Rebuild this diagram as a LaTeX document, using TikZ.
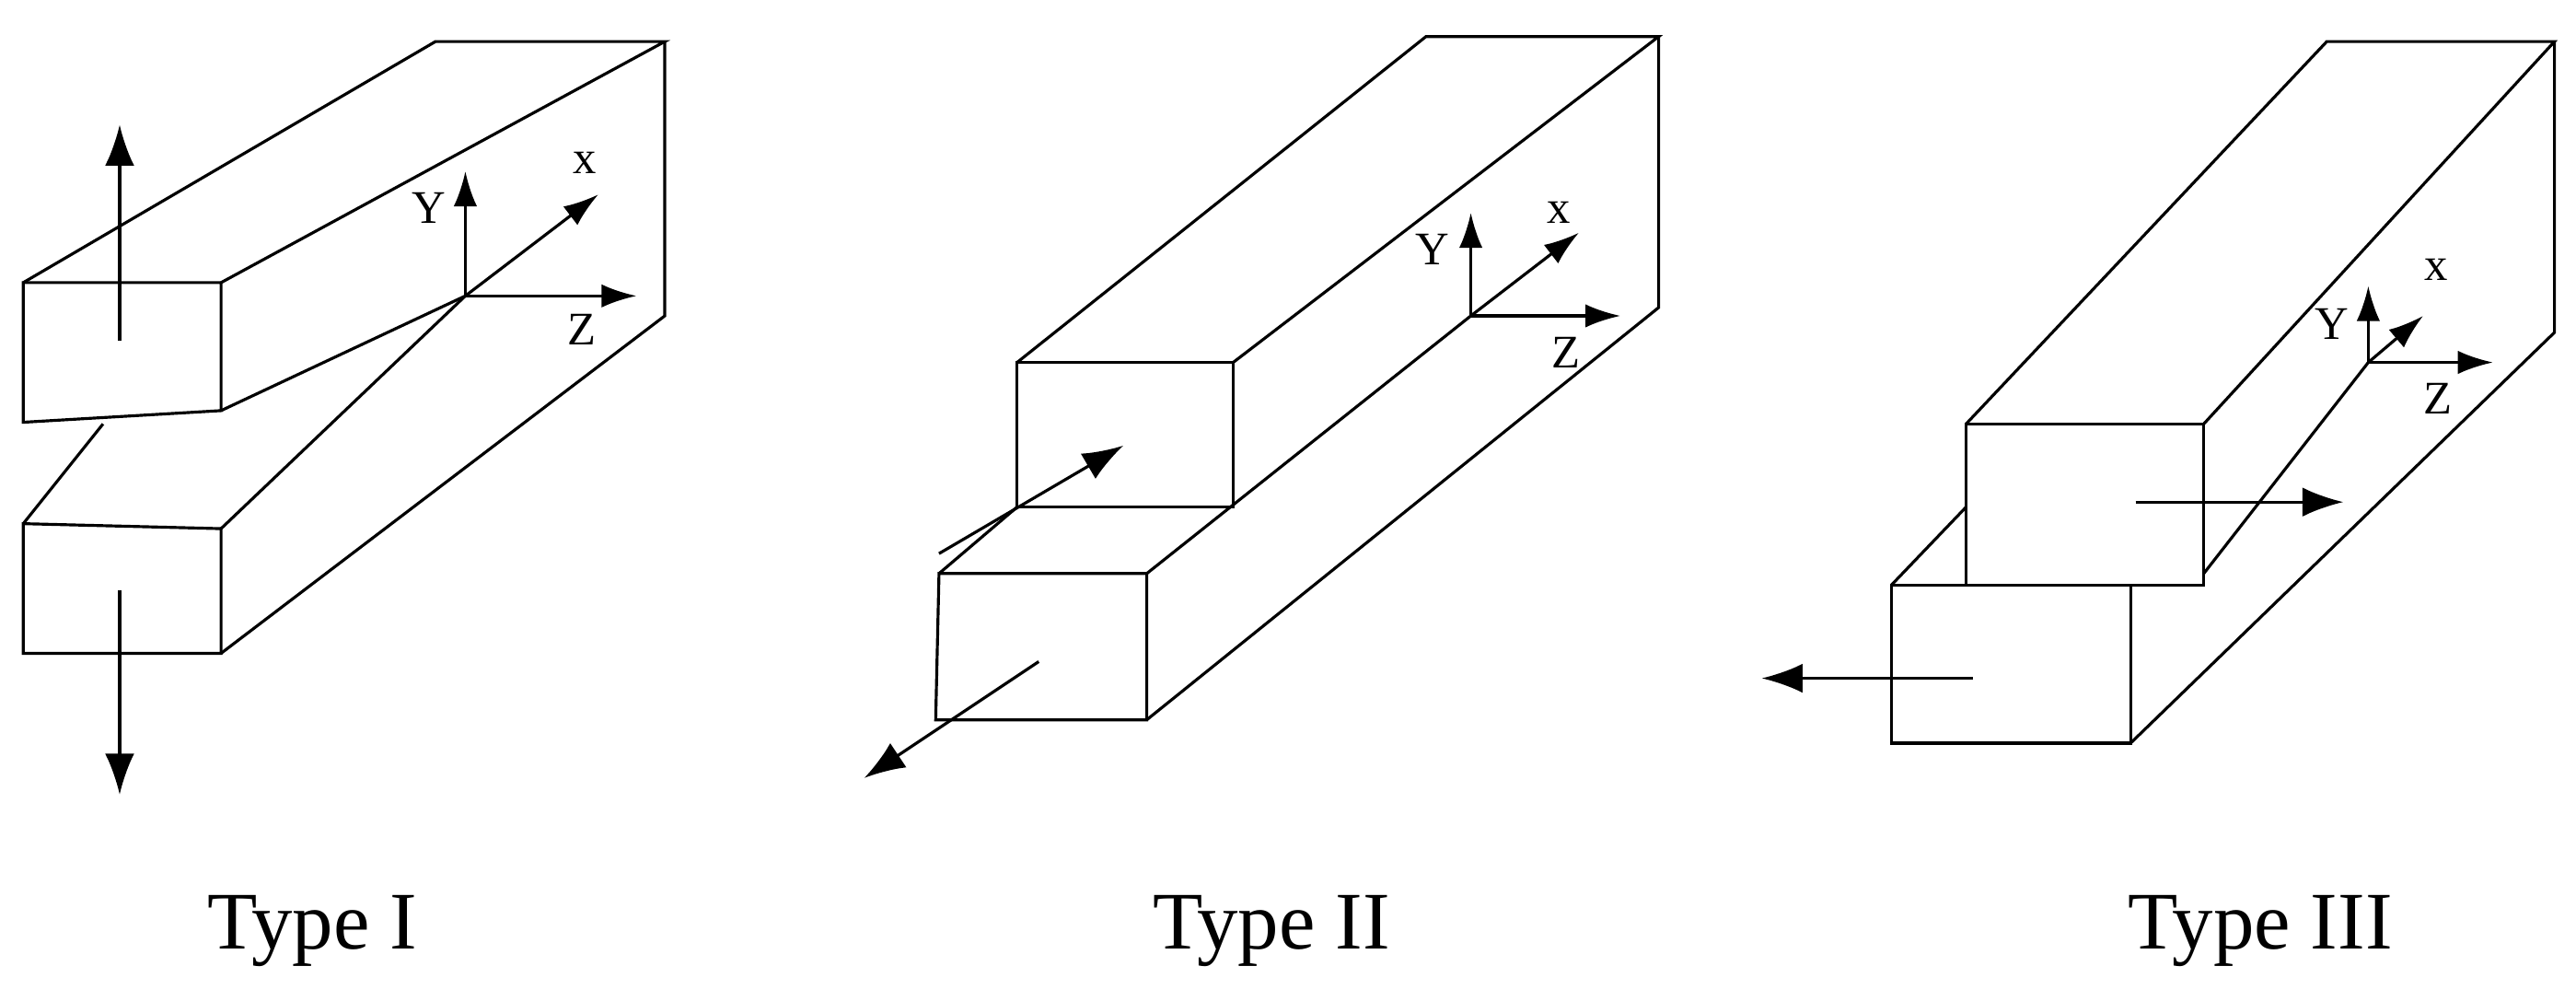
\documentclass[tikz,border=0pt]{standalone}
\usepackage{fontspec}
\setmainfont{Liberation Serif}
\usetikzlibrary{arrows.meta}
\begin{document}
\begin{tikzpicture}[x=0.1mm,y=-0.1mm,line width=0.5pt,
  ar/.style={-{Latex[length=7pt,width=5pt]}},
  ax/.style={-{Latex[length=6pt,width=4pt]}},
  lab/.style={font=\fontsize{8}{9}\selectfont},
  ttl/.style={font=\fontsize{14}{16}\selectfont}]
\useasboundingbox (0,0) rectangle (1550,602);
% Type I
\draw (14,170)--(133,170)--(133,247)--(14,254)--cycle;
\draw (14,170)--(262,25)--(400,25)--(133,170);
\draw (400,25)--(400,190)--(133,393);
\draw (14,315)--(133,318)--(133,393)--(14,393)--cycle;
\draw (14,315)--(62,255);
\draw (133,247)--(280,178);
\draw (133,318)--(280,178);
\coordinate (o1) at (280,178);
\draw[ax] (o1)--(280,103); \draw[ax] (o1)--(383,178); \draw[ax] (o1)--(360,117);
\node[lab] (y1) at (258,125) {Y}; \node[lab] (z1) at (350,198) {Z}; \node[lab] (x1) at (352,98) {x};
\draw[ar] (72,205)--(72,75);
\draw[ar] (72,355)--(72,478);
\node[ttl] (t1) at (188,560) {Type I};
% Type II
\draw (612,218)--(742,218)--(742,305)--(612,305)--cycle;
\draw (612,218)--(858,22)--(998,22)--(742,218);
\draw (998,22)--(998,185)--(690,433);
\draw (565,345)--(690,345)--(690,433)--(563,433)--cycle;
\draw (565,345)--(612,305);
\draw (690,345)--(885,190);
\coordinate (o2) at (885,190);
\draw[ax] (o2)--(885,128); \draw[ax] (o2)--(975,190); \draw[ax] (o2)--(950,140);
\node[lab] (y2) at (862,150) {Y}; \node[lab] (z2) at (942,212) {Z}; \node[lab] (x2) at (938,128) {x};
\draw[ar] (565,333)--(676,268);
\draw[ar] (625,398)--(520,468);
\node[ttl] (t2) at (765,560) {Type II};
% Type III
\draw (1183,255)--(1326,255)--(1326,352)--(1183,352)--cycle;
\draw (1183,255)--(1400,25)--(1537,25)--(1326,255);
\draw (1537,25)--(1537,200)--(1282,447);
\draw (1138,352)--(1282,352)--(1282,447)--(1138,447)--cycle;
\draw (1138,352)--(1183,305);
\draw (1326,345)--(1425,218);
\coordinate (o3) at (1425,218);
\draw[ax] (o3)--(1425,172); \draw[ax] (o3)--(1500,218); \draw[ax] (o3)--(1458,190);
\node[lab] (y3) at (1403,195) {Y}; \node[lab] (z3) at (1467,240) {Z}; \node[lab] (x3) at (1466,162) {x};
\draw[ar] (1285,302)--(1410,302);
\draw[ar] (1187,408)--(1060,408);
\node[ttl] (t3) at (1360,560) {Type III};
\end{tikzpicture}
\end{document}
